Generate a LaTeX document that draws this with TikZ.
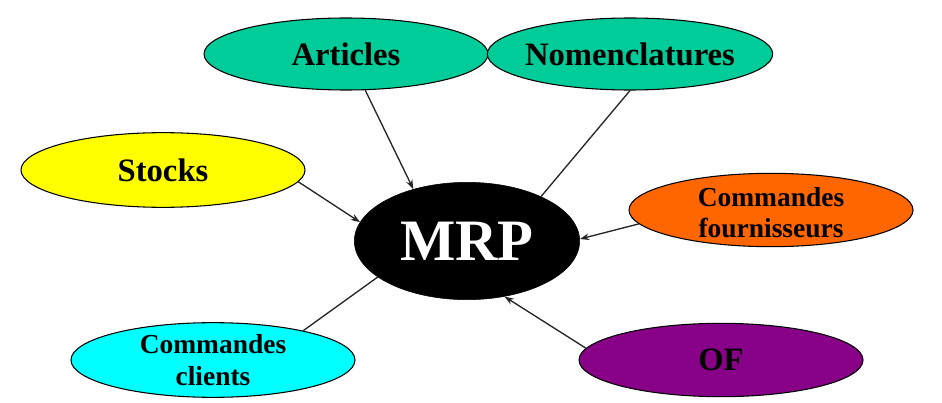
\documentclass[tikz,border=0pt]{standalone}
\usepackage{fontspec}
\setmainfont{Liberation Serif}
\usetikzlibrary{shapes.geometric,arrows.meta}
\definecolor{artgreen}{RGB}{0,204,153}
\definecolor{stockyellow}{RGB}{255,255,0}
\definecolor{fourorange}{RGB}{255,102,0}
\definecolor{clicyan}{RGB}{0,255,255}
\definecolor{ofpurple}{RGB}{136,0,136}
\tikzset{
  bubble/.style={ellipse, draw=black, line width=0.8pt, inner sep=0pt,
    minimum width=#1},
  bubble/.default={213pt},
  bigtxt/.style={font=\bfseries\fontsize{24.5}{28}\selectfont, align=center},
  smalltxt/.style={font=\bfseries\fontsize{20.6}{23.5}\selectfont, align=center},
  mrptxt/.style={font=\bfseries\fontsize{44}{48}\selectfont, text=white},
  conn/.style={line width=1pt, draw=black!85},
  connarr/.style={conn, -{Stealth[length=7pt,width=5pt]}}
}
\begin{document}
\begin{tikzpicture}[x=0.75pt,y=-0.75pt]
\useasboundingbox (0,0) rectangle (942,403);
\node[bubble, fill=artgreen, minimum height=54pt,
  label={[bigtxt]center:Articles}] (art) at (346,54) {};
\node[bubble=214pt, fill=artgreen, minimum height=54pt,
  label={[bigtxt]center:Nomenclatures}] (nom) at (630,54) {};
\node[bubble, fill=stockyellow, minimum height=56pt,
  label={[bigtxt]center:Stocks}] (sto) at (163,170) {};
\node[ellipse, fill=black, draw=black, inner sep=0pt, minimum width=169pt, minimum height=88pt,
  label={[mrptxt]center:MRP}] (mrp) at (467,241) {};
\node[bubble, fill=fourorange, minimum height=55pt,
  label={[smalltxt, yshift=-2pt]center:Commandes\\fournisseurs}] (cf) at (771,210) {};
\node[bubble, fill=clicyan, minimum height=56pt,
  label={[smalltxt]center:Commandes\\clients}] (cc) at (213,360) {};
\node[bubble, fill=ofpurple, minimum height=55pt,
  label={[bigtxt]center:OF}] (of) at (721,360) {};
\draw[connarr] (art.-62) -- (mrp.136);
\draw[conn] (nom.-90) -- (mrp.31.5);
\draw[connarr] (sto.-5.5) -- (mrp.170);
\draw[connarr] (cf.186) -- (mrp.1);
\draw[conn] (cc.18) -- (mrp.202);
\draw[connarr] (of.175) -- (mrp.-56);
\end{tikzpicture}
\end{document}
